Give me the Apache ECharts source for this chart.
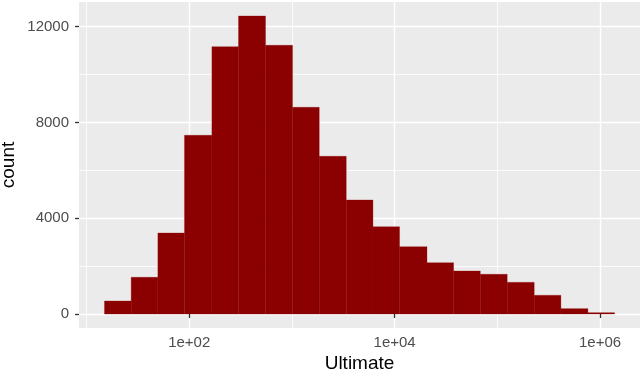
<!DOCTYPE html>
<html>
<head>
<meta charset="utf-8">
<script src="https://cdn.jsdelivr.net/npm/echarts@6/dist/echarts.min.js"></script>
<style>html,body{margin:0;padding:0;background:#fff}#c{width:640px;height:374px}</style>
</head>
<body>
<div id="c"></div>
<script>
// log10(Ultimate) bin edges
var binEdges = [1.175, 1.435, 1.695, 1.954, 2.221, 2.480, 2.743, 3.006, 3.266, 3.529,
                3.789, 4.048, 4.315, 4.574, 4.834, 5.096, 5.359, 5.619, 5.882, 6.141];
var counts = [543, 1532, 3383, 7463, 11167, 12447, 11222, 8633, 6586, 4762,
              3647, 2812, 2143, 1796, 1658, 1323, 781, 223, 55];
var xMajorTicks = [2, 4, 6];
var xMinorTicks = [1, 3, 5];
var yMajorTicks = [0, 4000, 8000, 12000];
var yMinorTicks = [2000, 6000, 10000];

var data = [];
for (var i = 0; i < counts.length; i++) {
  data.push([binEdges[i], binEdges[i + 1], counts[i]]);
}

var FONT = 'Liberation Sans';
var chart = echarts.init(document.getElementById('c'), null, {renderer: 'canvas'});
var xMin = 0.927, xMax = 6.389, yMin = -585, yMax = 13031;

chart.setOption({
  animation: false,
  grid: {left: 79, right: 0, top: 2, bottom: 46, show: true, backgroundColor: '#EBEBEB', borderWidth: 0,
         containLabel: false, outerBoundsMode: 'none'},
  xAxis: [{
    type: 'value', min: xMin, max: xMax, position: 'bottom',
    name: 'Ultimate', nameLocation: 'middle', nameGap: 26, nameMoveOverlap: false,
    nameTextStyle: {fontFamily: FONT, fontSize: 19, color: '#000'},
    axisLine: {show: false},
    axisTick: {show: true, customValues: xMajorTicks, length: 4, lineStyle: {color: '#333333', width: 1.3}},
    axisLabel: {customValues: xMajorTicks, margin: 7, fontFamily: FONT, fontSize: 15, color: '#4D4D4D',
      formatter: function (v) { return '1e+' + (v < 10 ? '0' : '') + v; }},
    splitLine: {show: true, lineStyle: {color: '#FFFFFF', width: 1.4}}
  }, {
    type: 'value', min: xMin, max: xMax, position: 'bottom',
    axisLine: {show: false},
    axisTick: {show: false, customValues: xMinorTicks},
    axisLabel: {show: false, customValues: xMinorTicks},
    splitLine: {show: true, lineStyle: {color: '#FFFFFF', width: 0.8}}
  }],
  yAxis: [{
    type: 'value', min: yMin, max: yMax, position: 'left',
    name: 'count', nameLocation: 'middle', nameGap: 61, nameMoveOverlap: false,
    nameTextStyle: {fontFamily: FONT, fontSize: 19, color: '#000'},
    axisLine: {show: false},
    axisTick: {show: true, customValues: yMajorTicks, length: 4, lineStyle: {color: '#333333', width: 1.3}},
    axisLabel: {customValues: yMajorTicks, margin: 10, fontFamily: FONT, fontSize: 15, color: '#4D4D4D',
      formatter: function (v) { return String(v); }},
    splitLine: {show: true, lineStyle: {color: '#FFFFFF', width: 1.4}}
  }, {
    type: 'value', min: yMin, max: yMax, position: 'left',
    axisLine: {show: false},
    axisTick: {show: false, customValues: yMinorTicks},
    axisLabel: {show: false, customValues: yMinorTicks},
    splitLine: {show: true, lineStyle: {color: '#FFFFFF', width: 0.8}}
  }],
  series: [{
    type: 'custom',
    xAxisIndex: 0, yAxisIndex: 0,
    data: data,
    encode: {x: [0, 1], y: 2},
    renderItem: function (params, api) {
      var p0 = api.coord([api.value(0), api.value(2)]);
      var p1 = api.coord([api.value(1), 0]);
      return {
        type: 'rect',
        shape: {x: p0[0], y: p0[1], width: p1[0] - p0[0], height: p1[1] - p0[1]},
        style: {fill: '#8B0000', stroke: '#8B0505', lineWidth: 0.3}
      };
    }
  }]
});
</script>
</body>
</html>
